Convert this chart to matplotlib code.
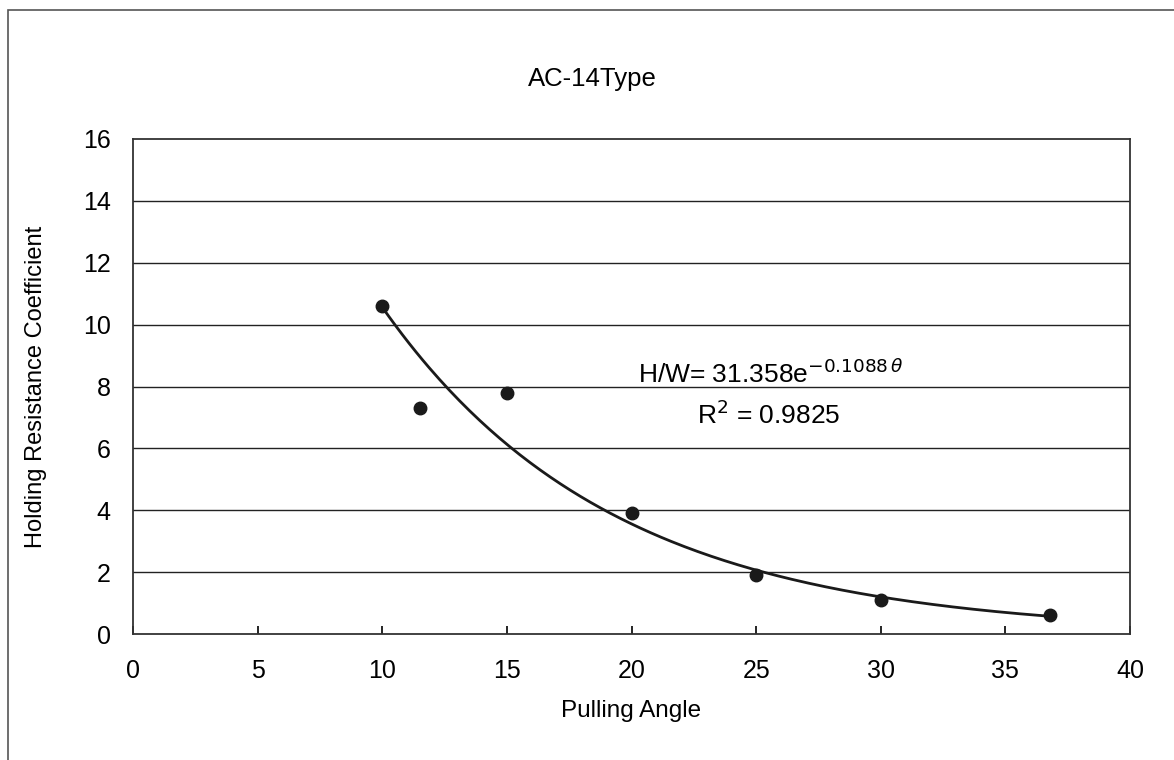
import numpy as np
import matplotlib.pyplot as plt
from matplotlib.patches import Rectangle

# measured points
angle = [10.0, 11.5, 15.0, 20.0, 25.0, 30.0, 36.8]
coef = [10.6, 7.3, 7.8, 3.9, 1.9, 1.1, 0.6]

# exponential fit  H/W = a * exp(b * theta)
fit_a = 31.358
fit_b = -0.1088
fit_r2 = 0.9825

xticks = [0, 5, 10, 15, 20, 25, 30, 35, 40]
yticks = [0, 2, 4, 6, 8, 10, 12, 14, 16]

plt.rcParams['font.family'] = ['Liberation Sans', 'DejaVu Sans']


def main():
    fig = plt.figure(figsize=(11.74, 7.6), dpi=100)
    fig.patches.append(Rectangle((8 / 1174, -0.5), 2.0, 1.5 - 10 / 760,
                                 transform=fig.transFigure, fill=False,
                                 edgecolor='#555555', linewidth=1.2))

    ax = fig.add_axes([133 / 1174, 1 - 634 / 760, 997 / 1174, 495 / 760])

    for y in yticks[1:-1]:
        ax.axhline(y, color='#222222', linewidth=1.0, zorder=1)

    theta = np.linspace(min(angle), max(angle), 200)
    ax.plot(theta, fit_a * np.exp(fit_b * theta), color='#1a1a1a', linewidth=2.0, zorder=2)
    ax.plot(angle, coef, 'o', color='#1a1a1a', markersize=9, zorder=3)

    ax.set_xlim(0, 40)
    ax.set_ylim(0, 16)
    ax.set_xticks(xticks)
    ax.set_yticks(yticks)
    ax.tick_params(axis='x', direction='in', length=6, width=1.2, pad=18, labelsize=18)
    ax.tick_params(axis='y', length=0, pad=16, labelsize=18)
    for s in ax.spines.values():
        s.set_linewidth(1.3)
        s.set_color('#333333')

    ax.set_xlabel('Pulling Angle', fontsize=17.5, labelpad=12)
    ax.set_ylabel('Holding Resistance Coefficient', fontsize=17, labelpad=26)
    fig.text(592 / 1174, 1 - 86 / 760, 'AC-14Type', fontsize=18.5,
             ha='center', va='baseline')

    ax.text(25.6, 7.95, r'H/W= 31.358e$^{-0.1088\,\theta}$', fontsize=19,
            ha='center', va='bottom')
    ax.text(25.5, 7.1, r'R$^2$ = ' + f'{fit_r2:.4f}', fontsize=19,
            ha='center', va='center')

    fig.savefig('out.png', dpi=100)


if __name__ == "__main__":
    main()
